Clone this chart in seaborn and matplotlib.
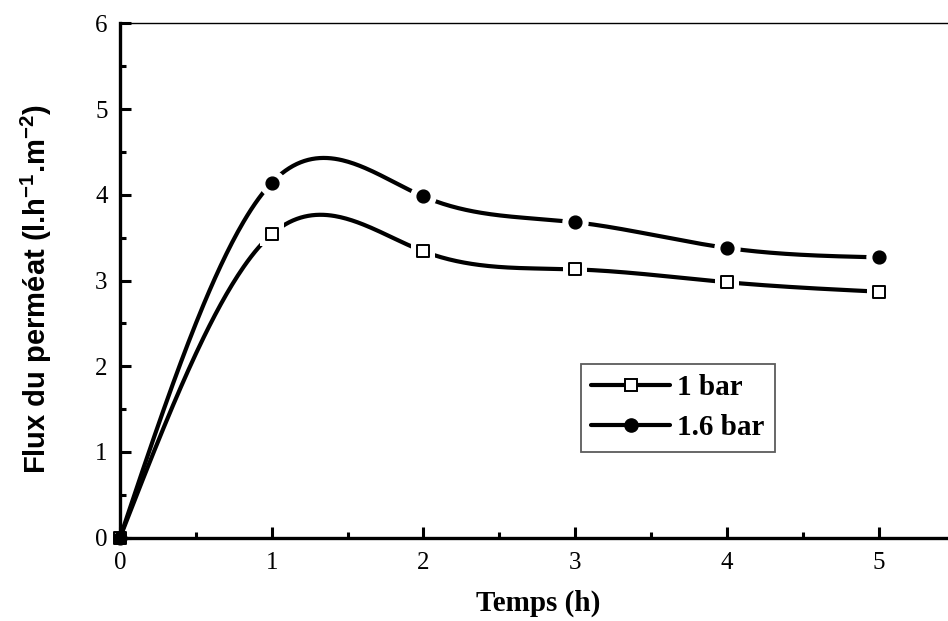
import numpy as np
import pandas as pd
import matplotlib
matplotlib.use("Agg")
import matplotlib.pyplot as plt
import seaborn as sns
from matplotlib.ticker import MultipleLocator
from matplotlib.lines import Line2D

# Data
temps = [0, 1, 2, 3, 4, 5]
flux_1bar = [0.0, 3.54, 3.34, 3.13, 2.98, 2.87]
flux_16bar = [0.0, 4.14, 3.98, 3.68, 3.38, 3.27]
series_labels = ["1 bar", "1.6 bar"]
x_ticks = [0, 1, 2, 3, 4, 5]
y_ticks = [0, 1, 2, 3, 4, 5, 6]


def natural_spline(x, y, xs):
    x = np.asarray(x, float); y = np.asarray(y, float)
    n = len(x)
    h = np.diff(x)
    A = np.zeros((n, n)); b = np.zeros(n)
    A[0, 0] = 1; A[-1, -1] = 1
    for i in range(1, n - 1):
        A[i, i - 1] = h[i - 1]
        A[i, i] = 2 * (h[i - 1] + h[i])
        A[i, i + 1] = h[i]
        b[i] = 3 * ((y[i + 1] - y[i]) / h[i] - (y[i] - y[i - 1]) / h[i - 1])
    c = np.linalg.solve(A, b)
    out = np.empty_like(xs)
    for k, xv in enumerate(xs):
        i = min(max(np.searchsorted(x, xv) - 1, 0), n - 2)
        dx = xv - x[i]
        bi = (y[i + 1] - y[i]) / h[i] - h[i] * (2 * c[i] + c[i + 1]) / 3
        di = (c[i + 1] - c[i]) / (3 * h[i])
        out[k] = y[i] + bi * dx + c[i] * dx ** 2 + di * dx ** 3
    return out


xs = np.linspace(0, 5, 400)
curve_df = pd.concat([
    pd.DataFrame({"t": xs, "v": natural_spline(temps, flux_1bar, xs), "s": series_labels[0]}),
    pd.DataFrame({"t": xs, "v": natural_spline(temps, flux_16bar, xs), "s": series_labels[1]}),
])

sns.set_style("white")
plt.rcParams.update({"text.color": "black", "axes.labelcolor": "black",
                     "xtick.color": "black", "ytick.color": "black"})
fig = plt.figure(figsize=(9.48, 6.21), dpi=100)
ax = fig.add_axes([120 / 948, (621 - 537.7) / 621, (948 - 120) / 948, (537.7 - 23.3) / 621])

sns.lineplot(data=curve_df, x="t", y="v", hue="s", palette=["black", "black"],
             linewidth=3.0, legend=False, ax=ax, sort=False, estimator=None, zorder=2)

# white halos around markers (gap effect), then markers
ax.scatter(temps[1:], flux_1bar[1:], marker="s", s=300, color="white", linewidths=0, zorder=6)
ax.scatter(temps[1:], flux_16bar[1:], marker="o", s=360, color="white", linewidths=0, zorder=6)
ax.scatter(temps, flux_1bar, marker="s", s=64, color="white", edgecolors="black",
           linewidths=1.4, zorder=7, clip_on=False)
ax.scatter(temps, flux_16bar, marker="o", s=85, color="black", edgecolors="black",
           zorder=8, clip_on=False)

ax.set_xlim(0, (948 - 120) / 151.7)
ax.set_ylim(0, 6)
ax.set_xticks(x_ticks)
ax.set_yticks(y_ticks)
ax.xaxis.set_minor_locator(MultipleLocator(0.5))
ax.yaxis.set_minor_locator(MultipleLocator(0.5))
ax.tick_params(axis="both", which="both", bottom=True, left=True, top=False, right=False)
ax.tick_params(axis="both", which="major", direction="in", length=8, width=2.2,
               labelsize=18, colors="black")
ax.tick_params(axis="x", which="major", pad=10)
ax.tick_params(axis="y", which="major", pad=9)
ax.tick_params(axis="both", which="minor", direction="in", length=4.5, width=2.2)
for lbl in ax.get_xticklabels() + ax.get_yticklabels():
    lbl.set_fontfamily("Liberation Serif")

ax.spines["left"].set_linewidth(2.4)
ax.spines["bottom"].set_linewidth(2.4)
ax.spines["top"].set_linewidth(1.0)
ax.spines["right"].set_visible(False)
for sp in ax.spines.values():
    sp.set_color("black")

ax.set_xlabel("Temps (h)", fontsize=21, fontweight="bold", family="Liberation Serif",
              color="black")
ax.xaxis.set_label_coords((538 - 120) / 828, -(590 - 537.7) / 514.4)
ax.set_ylabel("Flux du perméat (l.h$^{\\mathregular{-1}}$.m$^{\\mathregular{-2}}$)", fontsize=21,
              fontweight="bold", family="Liberation Sans", color="black")
ax.yaxis.set_label_coords(-(120 - 54) / 828, (537.7 - 289) / 514.4)

handles = [
    Line2D([], [], color="black", lw=3, marker="s", markersize=9, markerfacecolor="white",
           markeredgecolor="black", markeredgewidth=1.4),
    Line2D([], [], color="black", lw=3, marker="o", markersize=9.5, markerfacecolor="black"),
]
leg = ax.legend(handles, series_labels, loc="upper left",
                bbox_to_anchor=((581 - 120) / 828, 1 - (364 - 23.3) / 514.4),
                bbox_transform=ax.transAxes, frameon=True, fancybox=False, edgecolor="#333333",
                prop={"family": "Liberation Serif", "weight": "bold", "size": 21},
                handlelength=2.7, handletextpad=0.25, borderpad=0.35, labelspacing=0.45,
                borderaxespad=0)
leg.get_frame().set_linewidth(1.3)
for t in leg.get_texts():
    t.set_color("black")

fig.savefig("out.png", dpi=100)
